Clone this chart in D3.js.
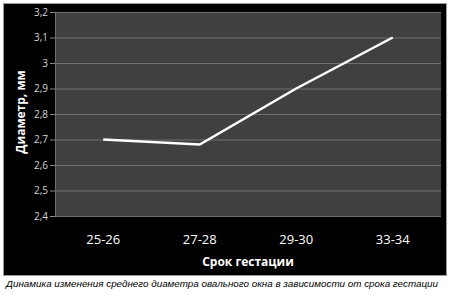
<!DOCTYPE html>
<html>
<head>
<meta charset="utf-8">
<script src="https://cdn.jsdelivr.net/npm/d3@7"></script>
<style>
    body { margin: 0; background: #fff; }
    svg { display: block; }
</style>
</head>
<body>
<svg id="chart" width="450" height="297"></svg>
<script>
const categories = ["25-26", "27-28", "29-30", "33-34"];
const values = [2.7, 2.68, 2.9, 3.1];
const yTicks = [2.4, 2.5, 2.6, 2.7, 2.8, 2.9, 3, 3.1, 3.2];

const svg = d3.select("#chart");

// black frame
svg.append("rect")
    .attr("x", 3.5).attr("y", 3.5)
    .attr("width", 443).attr("height", 272)
    .attr("fill", "#000")
    .attr("stroke", "#9a9a9a")
    .attr("stroke-width", 1);

const margin = { top: 12, left: 55, right: 10, bottom: 81 };
const w = 441 - margin.left,
    h = 216 - margin.top;

const g = svg.append("g")
    .attr("transform", "translate(" + margin.left + "," + margin.top + ")");

const x = d3.scaleBand().domain(categories).range([0, w]);
const y = d3.scaleLinear().domain([2.4, 3.2]).range([h, 0]);

g.append("rect")
    .attr("width", w).attr("height", h)
    .attr("fill", "#404040");

// grid
g.append("g")
    .selectAll("line")
    .data(yTicks).enter()
    .append("line")
    .attr("x1", 0).attr("x2", w)
    .attr("y1", d => y(d) + 0.5).attr("y2", d => y(d) + 0.5)
    .attr("stroke", "#6e6e6e")
    .attr("stroke-width", 1);

g.append("line")
    .attr("x1", 0.5).attr("x2", 0.5)
    .attr("y1", 0).attr("y2", h)
    .attr("stroke", "#6e6e6e");

const fmt = d => String(d).replace(".", ",");

const axisY = d3.axisLeft(y).tickValues(yTicks).tickFormat(fmt).tickSize(5).tickSizeOuter(0);
const ay = g.append("g").call(axisY);
ay.select(".domain").remove();
ay.selectAll("line").attr("stroke", "#8a8a8a");
ay.selectAll("text")
    .attr("fill", "#d4d4d4")
    .attr("x", -7)
    .style("font-family", "'Open Sans', sans-serif")
    .style("font-size", "10px");

const axisX = d3.axisBottom(x).tickSize(0);
const ax = g.append("g").attr("transform", "translate(0," + h + ")").call(axisX);
ax.select(".domain").remove();
ax.selectAll("text")
    .attr("fill", "#fff")
    .attr("dy", 0)
    .attr("y", 28)
    .style("font-family", "'Open Sans', sans-serif")
    .style("font-size", "13px");

const line = d3.line()
    .x((d, i) => x(categories[i]) + x.bandwidth() / 2)
    .y(d => y(d));

g.append("path")
    .datum(values)
    .attr("d", line)
    .attr("fill", "none")
    .attr("stroke", "#fff")
    .attr("stroke-width", 2.5);

svg.append("text")
    .attr("x", 248).attr("y", 266)
    .attr("text-anchor", "middle")
    .attr("fill", "#fff")
    .style("font-family", "'Open Sans', sans-serif")
    .style("font-weight", "bold")
    .style("font-size", "12px")
    .text("Срок гестации");

svg.append("text")
    .attr("transform", "translate(25,112) rotate(-90)")
    .attr("text-anchor", "middle")
    .attr("fill", "#fff")
    .style("font-family", "'Open Sans', sans-serif")
    .style("font-weight", "bold")
    .style("font-size", "12px")
    .text("Диаметр, мм");

svg.append("text")
    .attr("x", 6).attr("y", 287)
    .attr("fill", "#000")
    .attr("textLength", 432)
    .attr("lengthAdjust", "spacingAndGlyphs")
    .style("font-family", "'Liberation Sans', sans-serif")
    .style("font-style", "italic")
    .style("font-size", "9.5px")
    .text("Динамика изменения среднего диаметра овального окна в зависимости от срока гестации");
</script>
</body>
</html>
